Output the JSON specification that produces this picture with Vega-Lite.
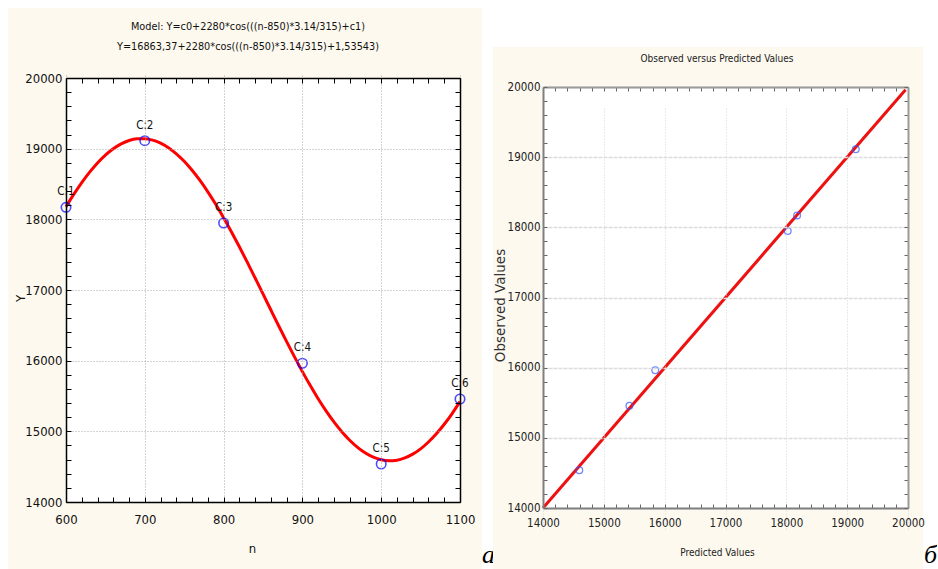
{
  "$schema": "https://vega.github.io/schema/vega-lite/v6.json",
  "autosize": {"type": "pad"},
  "padding": {"left": 8, "top": 8, "right": 0, "bottom": 0},
  "background": "#ffffff",
  "config": {"view": {"stroke": null}},
  "datasets": {
    "curve": [
      {"n": 600, "Y": 18177}, {"n": 610, "Y": 18356}, {"n": 620, "Y": 18520}, {"n": 630, "Y": 18668},
      {"n": 640, "Y": 18798}, {"n": 650, "Y": 18908}, {"n": 660, "Y": 18998}, {"n": 670, "Y": 19067},
      {"n": 680, "Y": 19115}, {"n": 690, "Y": 19139}, {"n": 700, "Y": 19142}, {"n": 710, "Y": 19121},
      {"n": 720, "Y": 19078}, {"n": 730, "Y": 19013}, {"n": 740, "Y": 18927}, {"n": 750, "Y": 18821},
      {"n": 760, "Y": 18694}, {"n": 770, "Y": 18550}, {"n": 780, "Y": 18389}, {"n": 790, "Y": 18213},
      {"n": 800, "Y": 18023}, {"n": 810, "Y": 17822}, {"n": 820, "Y": 17612}, {"n": 830, "Y": 17394},
      {"n": 840, "Y": 17170}, {"n": 850, "Y": 16944}, {"n": 860, "Y": 16717}, {"n": 870, "Y": 16491},
      {"n": 880, "Y": 16269}, {"n": 890, "Y": 16053}, {"n": 900, "Y": 15845}, {"n": 910, "Y": 15647},
      {"n": 920, "Y": 15461}, {"n": 930, "Y": 15289}, {"n": 940, "Y": 15133}, {"n": 950, "Y": 14994},
      {"n": 960, "Y": 14873}, {"n": 970, "Y": 14772}, {"n": 980, "Y": 14692}, {"n": 990, "Y": 14634},
      {"n": 1000, "Y": 14597}, {"n": 1010, "Y": 14583}, {"n": 1020, "Y": 14592}, {"n": 1030, "Y": 14624},
      {"n": 1040, "Y": 14677}, {"n": 1050, "Y": 14752}, {"n": 1060, "Y": 14849}, {"n": 1070, "Y": 14965},
      {"n": 1080, "Y": 15100}, {"n": 1090, "Y": 15252}, {"n": 1100, "Y": 15421}
    ],
    "pts": [
      {"n": 600, "Y": 18170, "label": "C:1", "pred": 18177},
      {"n": 700, "Y": 19113, "label": "C:2", "pred": 19142},
      {"n": 800, "Y": 17948, "label": "C:3", "pred": 18023},
      {"n": 900, "Y": 15963, "label": "C:4", "pred": 15845},
      {"n": 1000, "Y": 14538, "label": "C:5", "pred": 14597},
      {"n": 1100, "Y": 15458, "label": "C:6", "pred": 15421}
    ],
    "diag": [
      {"p": 14000, "o": 14000},
      {"p": 19960, "o": 19960}
    ]
  },
  "spacing": 11,
  "bounds": "flush",
  "hconcat": [
    {
      "width": 474,
      "height": 561,
      "view": {"fill": "#fdf9ef", "stroke": null},
      "title": {
        "text": ["Model: Y=c0+2280*cos(((n-850)*3.14/315)+c1)", "Y=16863,37+2280*cos(((n-850)*3.14/315)+1,53543)"],
        "font": "Liberation Sans Narrow, DejaVu Sans Condensed, sans-serif",
        "fontSize": 10.8,
        "fontWeight": "normal",
        "color": "#111111",
        "lineHeight": 20,
        "offset": -44,
        "dx": 3,
        "anchor": "middle",
        "frame": "group"
      },
      "resolve": {"axis": {"x": "independent", "y": "independent"}},
      "layer": [
        {
          "data": {"values": [{}]},
          "mark": {"type": "rect", "fill": "#ffffff"},
          "encoding": {
            "x": {
              "datum": 600, "type": "quantitative",
              "scale": {"domain": [600, 1100], "range": [58, 452], "nice": false, "zero": false},
              "axis": {
                "orient": "bottom", "offset": -67, "zindex": 1,
                "values": [600,620,640,660,680,700,720,740,760,780,800,820,840,860,880,900,920,940,960,980,1000,1020,1040,1060,1080,1100],
                "format": "d",
                "labelExpr": "datum.value % 100 === 0 ? datum.label : ''",
                "labelFlush": false, "labelOverlap": false,
                "labelFont": "Liberation Sans Narrow, DejaVu Sans Condensed, sans-serif",
                "labelFontSize": 13, "labelColor": "#111111", "labelPadding": 16,
                "tickSize": -5, "tickColor": "#000000", "tickWidth": 1,
                "domainColor": "#000000", "domainWidth": 1.5,
                "grid": true, "gridColor": "#a8a8a8", "gridDash": [1, 2], "gridWidth": 1,
                "gridOpacity": {"condition": {"test": "datum.value % 100 === 0", "value": 1}, "value": 0},
                "title": "n",
                "titleFont": "Liberation Sans Narrow, DejaVu Sans Condensed, sans-serif",
                "titleFontSize": 13, "titleFontWeight": "normal", "titleColor": "#111111",
                "titleX": 244, "titleY": 46, "titleBaseline": "middle", "titleAlign": "center"
              }
            },
            "x2": {"datum": 1100},
            "y": {
              "datum": 14000, "type": "quantitative",
              "scale": {"domain": [14000, 20000], "range": [494, 70], "nice": false, "zero": false},
              "axis": {
                "orient": "left", "offset": -58, "zindex": 1,
                "values": [14000,14200,14400,14600,14800,15000,15200,15400,15600,15800,16000,16200,16400,16600,16800,17000,17200,17400,17600,17800,18000,18200,18400,18600,18800,19000,19200,19400,19600,19800,20000],
                "format": "d",
                "labelExpr": "datum.value % 1000 === 0 ? datum.label : ''",
                "labelFlush": false, "labelOverlap": false,
                "labelFont": "Liberation Sans Narrow, DejaVu Sans Condensed, sans-serif",
                "labelFontSize": 13, "labelColor": "#111111", "labelPadding": 9,
                "tickSize": -5, "tickColor": "#000000", "tickWidth": 1,
                "domainColor": "#000000", "domainWidth": 1.5,
                "grid": true, "gridColor": "#a8a8a8", "gridDash": [1, 2], "gridWidth": 1,
                "gridOpacity": {"condition": {"test": "datum.value % 1000 === 0", "value": 1}, "value": 0},
                "title": "Y",
                "titleFont": "Liberation Sans Narrow, DejaVu Sans Condensed, sans-serif",
                "titleFontSize": 13, "titleFontWeight": "normal", "titleColor": "#111111",
                "titleX": -46, "titleY": 290, "titleAngle": -90, "titleBaseline": "middle", "titleAlign": "center"
              }
            },
            "y2": {"datum": 20000}
          }
        },
        {
          "data": {"name": "curve"},
          "mark": {"type": "line", "color": "#ff0000", "strokeWidth": 3, "interpolate": "monotone"},
          "encoding": {
            "x": {
              "field": "n", "type": "quantitative",
              "scale": {"domain": [600, 1100], "range": [58, 452], "nice": false, "zero": false},
              "axis": {
                "orient": "top", "offset": -70, "zindex": 1,
                "values": [600,620,640,660,680,700,720,740,760,780,800,820,840,860,880,900,920,940,960,980,1000,1020,1040,1060,1080,1100],
                "labels": false, "grid": false,
                "tickSize": -5, "tickColor": "#000000", "tickWidth": 1,
                "domainColor": "#000000", "domainWidth": 1.5,
                "title": null
              }
            },
            "y": {
              "field": "Y", "type": "quantitative",
              "scale": {"domain": [14000, 20000], "range": [494, 70], "nice": false, "zero": false},
              "axis": {
                "orient": "right", "offset": -22, "zindex": 1,
                "values": [14000,14200,14400,14600,14800,15000,15200,15400,15600,15800,16000,16200,16400,16600,16800,17000,17200,17400,17600,17800,18000,18200,18400,18600,18800,19000,19200,19400,19600,19800,20000],
                "labels": false, "grid": false,
                "tickSize": -5, "tickColor": "#000000", "tickWidth": 1,
                "domainColor": "#000000", "domainWidth": 1.5,
                "title": "а",
                "titleFont": "Liberation Serif, DejaVu Serif, serif",
                "titleFontStyle": "italic", "titleFontWeight": "normal",
                "titleFontSize": 26, "titleColor": "#000000",
                "titleAngle": 0, "titleX": 28, "titleY": 554,
                "titleBaseline": "alphabetic", "titleAlign": "center"
              }
            }
          }
        },
        {
          "data": {"name": "pts"},
          "mark": {"type": "point", "shape": "circle", "filled": false, "color": "#0000ff", "size": 90, "strokeWidth": 1.6},
          "encoding": {
            "x": {"field": "n", "type": "quantitative", "scale": {"domain": [600, 1100], "range": [58, 452], "nice": false, "zero": false}, "axis": null},
            "y": {"field": "Y", "type": "quantitative", "scale": {"domain": [14000, 20000], "range": [494, 70], "nice": false, "zero": false}, "axis": null}
          }
        },
        {
          "data": {"name": "pts"},
          "mark": {"type": "text", "dy": -15, "font": "Liberation Sans Narrow, DejaVu Sans Condensed, sans-serif", "fontSize": 11.5, "color": "#111111"},
          "encoding": {
            "x": {"field": "n", "type": "quantitative", "scale": {"domain": [600, 1100], "range": [58, 452], "nice": false, "zero": false}, "axis": null},
            "y": {"field": "Y", "type": "quantitative", "scale": {"domain": [14000, 20000], "range": [494, 70], "nice": false, "zero": false}, "axis": null},
            "text": {"field": "label"}
          }
        }
      ]
    },
    {
      "spacing": 0,
      "bounds": "flush",
      "vconcat": [
        {
          "width": 430,
          "height": 39,
          "view": {"fill": null, "stroke": null},
          "data": {"values": [{}]},
          "mark": {"type": "text"},
          "encoding": {"text": {"value": ""}}
        },
        {
          "width": 430,
          "height": 522,
          "view": {"fill": "#fdf9ef", "stroke": null},
          "title": {
            "text": "Observed versus Predicted Values",
            "font": "Liberation Sans Narrow, DejaVu Sans Condensed, sans-serif",
            "fontSize": 10,
            "fontWeight": "normal",
            "color": "#222222",
            "offset": -17,
            "dx": 9,
            "anchor": "middle",
            "frame": "group"
          },
          "resolve": {"axis": {"x": "independent", "y": "independent"}},
          "layer": [
            {
              "data": {"values": [{}]},
              "mark": {"type": "rect", "fill": "#ffffff"},
              "encoding": {
                "x": {
                  "datum": 14000, "type": "quantitative",
                  "scale": {"domain": [14000, 20000], "range": [50, 415], "nice": false, "zero": false},
                  "axis": {
                    "orient": "bottom", "offset": -61, "zindex": 1,
                    "values": [14000,14200,14400,14600,14800,15000,15200,15400,15600,15800,16000,16200,16400,16600,16800,17000,17200,17400,17600,17800,18000,18200,18400,18600,18800,19000,19200,19400,19600,19800,20000],
                    "format": "d",
                    "labelExpr": "datum.value % 1000 === 0 ? datum.label : ''",
                    "labelFlush": false, "labelOverlap": false,
                    "labelFont": "Liberation Sans Narrow, DejaVu Sans Condensed, sans-serif",
                    "labelFontSize": 11.5, "labelColor": "#222222", "labelPadding": 13,
                    "tickSize": -4, "tickColor": "#666666", "tickWidth": 1,
                    "domainColor": "#808080", "domainWidth": 2,
                    "grid": true, "gridColor": "#d4d4d4", "gridDash": [1, 2], "gridWidth": 1,
                    "gridOpacity": {"condition": {"test": "datum.value % 1000 === 0", "value": 1}, "value": 0},
                    "title": "Predicted Values",
                    "titleFont": "Liberation Sans Narrow, DejaVu Sans Condensed, sans-serif",
                    "titleFontSize": 10, "titleFontWeight": "normal", "titleColor": "#222222",
                    "titleX": 224, "titleY": 44, "titleBaseline": "middle", "titleAlign": "center"
                  }
                },
                "x2": {"datum": 20000},
                "y": {
                  "datum": 14000, "type": "quantitative",
                  "scale": {"domain": [14000, 20000], "range": [461, 40], "nice": false, "zero": false},
                  "axis": {
                    "orient": "left", "offset": -50, "zindex": 1,
                    "values": [14000,14200,14400,14600,14800,15000,15200,15400,15600,15800,16000,16200,16400,16600,16800,17000,17200,17400,17600,17800,18000,18200,18400,18600,18800,19000,19200,19400,19600,19800,20000],
                    "format": "d",
                    "labelExpr": "datum.value % 1000 === 0 ? datum.label : ''",
                    "labelFlush": false, "labelOverlap": false,
                    "labelFont": "Liberation Sans Narrow, DejaVu Sans Condensed, sans-serif",
                    "labelFontSize": 11.5, "labelColor": "#222222", "labelPadding": 7,
                    "tickSize": -4, "tickColor": "#666666", "tickWidth": 1,
                    "domainColor": "#808080", "domainWidth": 2,
                    "grid": true, "gridColor": "#dcdcdc", "gridDash": [4, 1], "gridWidth": 1.5,
                    "gridOpacity": {"condition": {"test": "datum.value % 1000 === 0", "value": 1}, "value": 0},
                    "title": "Observed Values",
                    "titleFont": "DejaVu Sans, sans-serif",
                    "titleFontSize": 13.5, "titleFontWeight": "normal", "titleColor": "#333333",
                    "titleX": -43, "titleY": 258, "titleAngle": -90, "titleBaseline": "middle", "titleAlign": "center"
                  }
                },
                "y2": {"datum": 20000}
              }
            },
            {
              "data": {"name": "diag"},
              "mark": {"type": "line", "color": "#ee1111", "strokeWidth": 3},
              "encoding": {
                "x": {
                  "field": "p", "type": "quantitative",
                  "scale": {"domain": [14000, 20000], "range": [50, 415], "nice": false, "zero": false},
                  "axis": {
                    "orient": "top", "offset": -40, "zindex": 1,
                    "values": [14000,14200,14400,14600,14800,15000,15200,15400,15600,15800,16000,16200,16400,16600,16800,17000,17200,17400,17600,17800,18000,18200,18400,18600,18800,19000,19200,19400,19600,19800,20000],
                    "labels": false, "grid": false,
                    "tickSize": -4, "tickColor": "#666666", "tickWidth": 1,
                    "domainColor": "#9a9a9a", "domainWidth": 2,
                    "title": null
                  }
                },
                "y": {
                  "field": "o", "type": "quantitative",
                  "scale": {"domain": [14000, 20000], "range": [461, 40], "nice": false, "zero": false},
                  "axis": {
                    "orient": "right", "offset": -15, "zindex": 1,
                    "values": [14000,14200,14400,14600,14800,15000,15200,15400,15600,15800,16000,16200,16400,16600,16800,17000,17200,17400,17600,17800,18000,18200,18400,18600,18800,19000,19200,19400,19600,19800,20000],
                    "labels": false, "grid": false,
                    "tickSize": -4, "tickColor": "#666666", "tickWidth": 1,
                    "domainColor": "#9a9a9a", "domainWidth": 2,
                    "title": "б",
                    "titleFont": "Liberation Serif, DejaVu Serif, serif",
                    "titleFontStyle": "italic", "titleFontWeight": "normal",
                    "titleFontSize": 26, "titleColor": "#000000",
                    "titleAngle": 0, "titleX": 22, "titleY": 515,
                    "titleBaseline": "alphabetic", "titleAlign": "center"
                  }
                }
              }
            },
            {
              "data": {"name": "pts"},
              "mark": {"type": "point", "shape": "circle", "filled": false, "color": "#3355ff", "size": 45, "strokeWidth": 1.3},
              "encoding": {
                "x": {"field": "pred", "type": "quantitative", "scale": {"domain": [14000, 20000], "range": [50, 415], "nice": false, "zero": false}, "axis": null},
                "y": {"field": "Y", "type": "quantitative", "scale": {"domain": [14000, 20000], "range": [461, 40], "nice": false, "zero": false}, "axis": null}
              }
            }
          ]
        }
      ]
    }
  ]
}
